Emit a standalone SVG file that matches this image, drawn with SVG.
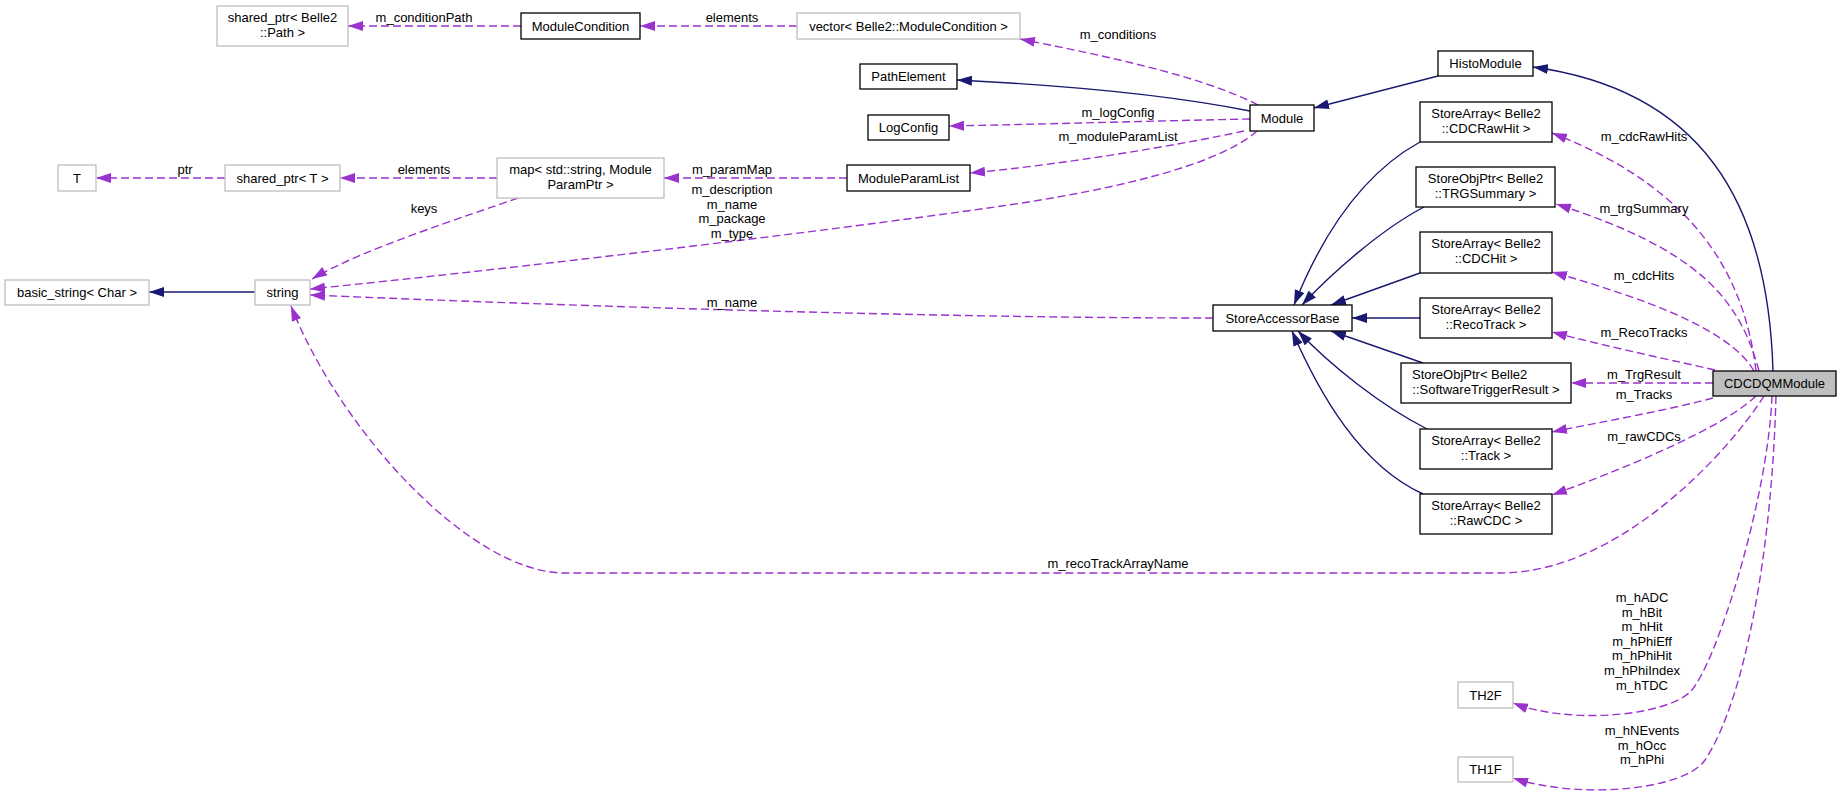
<svg xmlns="http://www.w3.org/2000/svg" width="1841" height="800" viewBox="0 0 1841 800">
<style>
text{font-family:"Liberation Sans",Arial,sans-serif;font-size:13px;fill:#000;text-anchor:middle}
.b{fill:#fff;stroke:#000;stroke-width:1.3}
.g{fill:#fff;stroke:#bfbfbf;stroke-width:1.3}
.cur{fill:#bfbfbf;stroke:#000;stroke-width:1.3}
.inh{fill:none;stroke:#191970;stroke-width:1.4;marker-end:url(#an)}
.use{fill:none;stroke:#9a32cd;stroke-width:1.4;stroke-dasharray:8,4;marker-end:url(#ap)}
</style>
<defs>
<marker id="an" markerUnits="userSpaceOnUse" viewBox="0 0 15 10" refX="15" refY="5" markerWidth="15" markerHeight="10" orient="auto"><path d="M0,0L15,5L0,10z" fill="#191970"/></marker>
<marker id="ap" markerUnits="userSpaceOnUse" viewBox="0 0 15 10" refX="15" refY="5" markerWidth="15" markerHeight="10" orient="auto"><path d="M0,0L15,5L0,10z" fill="#9a32cd"/></marker>
</defs>
<rect width="1841" height="800" fill="#fff"/>
<g id="edges">
<path class="inh" d="M1250,111 C1180,97 1080,86 957,80"/>
<path class="inh" d="M1438,76 L1314,108"/>
<path class="inh" d="M1773,371 C1768,200 1700,90 1533,67"/>
<path class="inh" d="M1420,142 C1360,175 1320,240 1294,305"/>
<path class="inh" d="M1424,207 C1380,230 1330,275 1302,305"/>
<path class="inh" d="M1420,273 L1331,305"/>
<path class="inh" d="M1420,318 L1352,318"/>
<path class="inh" d="M1423,363 L1331,331"/>
<path class="inh" d="M1427,429 C1380,405 1330,365 1298,331"/>
<path class="inh" d="M1423,494 C1360,465 1320,395 1292,331"/>
<path class="inh" d="M255,292 L149,292"/>
<path class="use" d="M521,26 L348,26"/>
<path class="use" d="M797,26 L640,26"/>
<path class="use" d="M1258,105 C1200,75 1100,55 1020,39"/>
<path class="use" d="M1250,119 C1150,121 1050,124 949,126"/>
<path class="use" d="M1244,131 C1180,145 1060,165 970,173"/>
<path class="use" d="M1257,131 C1215,168 1100,192 995,207 C820,232 500,270 310,289"/>
<path class="use" d="M847,178 L664,178"/>
<path class="use" d="M497,178 L340,178"/>
<path class="use" d="M225,178 L96,178"/>
<path class="use" d="M518,198 C470,215 360,250 312,279"/>
<path class="use" d="M1213,318 C900,318 500,303 310,295"/>
<path class="use" d="M1756,371 C1745,280 1700,190 1552,133"/>
<path class="use" d="M1759,371 C1740,300 1700,250 1556,204"/>
<path class="use" d="M1754,371 C1730,330 1650,300 1552,272"/>
<path class="use" d="M1715,370 C1680,362 1600,345 1552,332"/>
<path class="use" d="M1713,383 L1571,383"/>
<path class="use" d="M1713,398 C1660,412 1600,422 1552,432"/>
<path class="use" d="M1756,396 C1720,430 1620,470 1552,495"/>
<path class="use" d="M1764,396 C1730,450 1620,573 1500,573 L565,573 C470,573 340,430 291,306"/>
<path class="use" d="M1772,396 C1768,500 1715,668 1690,692 C1665,716 1570,725 1513,703"/>
<path class="use" d="M1776,396 C1772,550 1745,700 1705,760 C1685,790 1580,800 1513,778"/>
<text x="424" y="22">m_conditionPath</text>
<text x="732" y="22">elements</text>
<text x="1118" y="39">m_conditions</text>
<text x="1118" y="117">m_logConfig</text>
<text x="1118" y="141">m_moduleParamList</text>
<text x="732" y="174">m_paramMap</text>
<text x="424" y="174">elements</text>
<text x="185" y="174">ptr</text>
<text x="424" y="213">keys</text>
<text x="732" y="194">m_description</text>
<text x="732" y="209">m_name</text>
<text x="732" y="223">m_package</text>
<text x="732" y="238">m_type</text>
<text x="732" y="307">m_name</text>
<text x="1644" y="141">m_cdcRawHits</text>
<text x="1644" y="213">m_trgSummary</text>
<text x="1644" y="280">m_cdcHits</text>
<text x="1644" y="337">m_RecoTracks</text>
<text x="1644" y="379">m_TrgResult</text>
<text x="1644" y="399">m_Tracks</text>
<text x="1644" y="441">m_rawCDCs</text>
<text x="1118" y="568">m_recoTrackArrayName</text>
<text x="1642" y="602">m_hADC</text>
<text x="1642" y="617">m_hBit</text>
<text x="1642" y="631">m_hHit</text>
<text x="1642" y="646">m_hPhiEff</text>
<text x="1642" y="660">m_hPhiHit</text>
<text x="1642" y="675">m_hPhiIndex</text>
<text x="1642" y="690">m_hTDC</text>
<text x="1642" y="735">m_hNEvents</text>
<text x="1642" y="750">m_hOcc</text>
<text x="1642" y="764">m_hPhi</text>
</g>
<g id="n_sp_path"><rect class="g" x="217" y="6" width="131" height="40"/><text x="282.5" y="22">shared_ptr&lt; Belle2</text><text x="282.5" y="37">::Path &gt;</text></g>
<g id="n_modcond"><rect class="b" x="521" y="13" width="119" height="26"/><text x="580.5" y="31">ModuleCondition</text></g>
<g id="n_vector"><rect class="g" x="797" y="13" width="223" height="26"/><text x="908.5" y="31">vector&lt; Belle2::ModuleCondition &gt;</text></g>
<g id="n_pathelement"><rect class="b" x="860" y="64" width="97" height="25"/><text x="908.5" y="81">PathElement</text></g>
<g id="n_logconfig"><rect class="b" x="868" y="115" width="81" height="25"/><text x="908.5" y="132">LogConfig</text></g>
<g id="n_modparamlist"><rect class="b" x="847" y="165" width="123" height="26"/><text x="908.5" y="183">ModuleParamList</text></g>
<g id="n_map"><rect class="g" x="497" y="158" width="167" height="40"/><text x="580.5" y="174">map&lt; std::string, Module</text><text x="580.5" y="189">ParamPtr &gt;</text></g>
<g id="n_sp_t"><rect class="g" x="225" y="165" width="115" height="26"/><text x="282.5" y="183">shared_ptr&lt; T &gt;</text></g>
<g id="n_t"><rect class="g" x="58" y="165" width="38" height="26"/><text x="77" y="183">T</text></g>
<g id="n_basic_string"><rect class="g" x="5" y="280" width="144" height="25"/><text x="77" y="297">basic_string&lt; Char &gt;</text></g>
<g id="n_string"><rect class="g" x="255" y="280" width="55" height="25"/><text x="282.5" y="297">string</text></g>
<g id="n_module"><rect class="b" x="1250" y="105" width="64" height="26"/><text x="1282" y="123">Module</text></g>
<g id="n_histomodule"><rect class="b" x="1438" y="51" width="95" height="25"/><text x="1485.5" y="68">HistoModule</text></g>
<g id="n_cdcrawhit"><rect class="b" x="1420" y="102" width="132" height="40"/><text x="1486" y="118">StoreArray&lt; Belle2</text><text x="1486" y="133">::CDCRawHit &gt;</text></g>
<g id="n_trgsummary"><rect class="b" x="1416" y="167" width="139" height="40"/><text x="1485.5" y="183">StoreObjPtr&lt; Belle2</text><text x="1485.5" y="198">::TRGSummary &gt;</text></g>
<g id="n_cdchit"><rect class="b" x="1420" y="232" width="132" height="41"/><text x="1486" y="248">StoreArray&lt; Belle2</text><text x="1486" y="263">::CDCHit &gt;</text></g>
<g id="n_sab"><rect class="b" x="1213" y="305" width="139" height="26"/><text x="1282.5" y="323">StoreAccessorBase</text></g>
<g id="n_recotrack"><rect class="b" x="1420" y="298" width="132" height="40"/><text x="1486" y="314">StoreArray&lt; Belle2</text><text x="1486" y="329">::RecoTrack &gt;</text></g>
<g id="n_swtrg"><rect class="b" x="1401" y="363" width="170" height="40"/><text x="1412" y="379" style="text-anchor:start">StoreObjPtr&lt; Belle2</text><text x="1486" y="394">::SoftwareTriggerResult &gt;</text></g>
<g id="n_cdcdqm"><rect class="cur" x="1713" y="371" width="123" height="25"/><text x="1774.5" y="388">CDCDQMModule</text></g>
<g id="n_track"><rect class="b" x="1420" y="429" width="132" height="40"/><text x="1486" y="445">StoreArray&lt; Belle2</text><text x="1486" y="460">::Track &gt;</text></g>
<g id="n_rawcdc"><rect class="b" x="1420" y="494" width="132" height="40"/><text x="1486" y="510">StoreArray&lt; Belle2</text><text x="1486" y="525">::RawCDC &gt;</text></g>
<g id="n_th2f"><rect class="g" x="1458" y="682" width="55" height="26"/><text x="1485.5" y="700">TH2F</text></g>
<g id="n_th1f"><rect class="g" x="1458" y="757" width="55" height="25"/><text x="1485.5" y="774">TH1F</text></g>
</svg>
